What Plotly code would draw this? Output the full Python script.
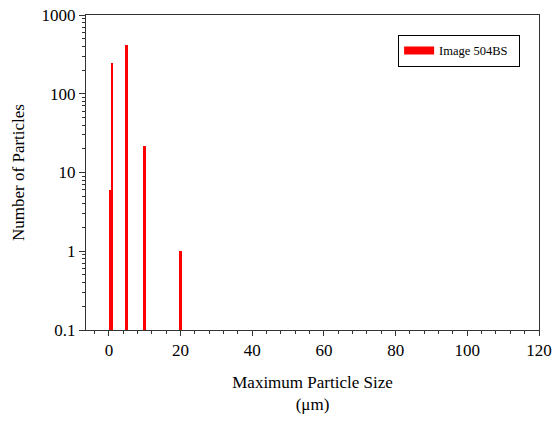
import plotly.graph_objects as go

sizes = [0.5, 1, 5, 10, 20]
counts = [6, 248, 417, 22, 1]
series_name = "Image 504BS"
y_tickvals = [0.1, 1, 10, 100, 1000]
y_ticktext = ["0.1", "1", "10", "100", "1000"]
x_tickvals = [0, 20, 40, 60, 80, 100, 120]
y_minor = [m * d for d in [0.1, 1, 10, 100] for m in range(2, 10)]

font = "Liberation Serif, Times New Roman, serif"

fig = go.Figure()
fig.add_trace(go.Bar(x=sizes, y=counts, width=0.5, marker=dict(color="#ff0000", line=dict(width=0)),
                     showlegend=False))
# legend proxy (wide red rectangle symbol)
fig.add_trace(go.Scatter(x=[None], y=[None], mode="lines", name=series_name + "\u00a0\u00a0",
                         line=dict(color="#ff0000", width=8)))

fig.update_layout(
    width=554, height=421,
    margin=dict(l=86, r=15, t=15, b=91, autoexpand=False),
    plot_bgcolor="white", paper_bgcolor="white",
    font=dict(family=font, size=17, color="black"),
    bargap=0,
    legend=dict(x=0.689, y=0.937, xanchor="left", yanchor="top",
                bordercolor="black", borderwidth=1, bgcolor="white",
                font=dict(size=12.5, family=font)),
    xaxis=dict(range=[-6.4, 120], tickvals=x_tickvals, ticks="outside", ticklen=5,
               tickcolor="#333", showline=True, linecolor="#333", mirror=True,
               showgrid=False, zeroline=False, automargin=False,
               minor=dict(dtick=4, tick0=0, ticks="outside", ticklen=3, tickcolor="#333"),
               title=dict(text="Maximum Particle Size<br>(μm)", standoff=16, font=dict(size=17))),
    yaxis=dict(type="log", range=[-1, 3], tickvals=y_tickvals, ticktext=y_ticktext,
               ticks="outside", ticklen=6, tickcolor="#333",
               showline=True, linecolor="#333", mirror=True, showgrid=False, zeroline=False,
               automargin=False,
               minor=dict(tickvals=y_minor, ticks="outside", ticklen=3, tickcolor="#333", showgrid=False),
               title=dict(text="Number of Particles", standoff=12, font=dict(size=17))),
)

fig.write_html("out.html", post_script="document.body.style.margin='0';",
               config={"displayModeBar": False})
